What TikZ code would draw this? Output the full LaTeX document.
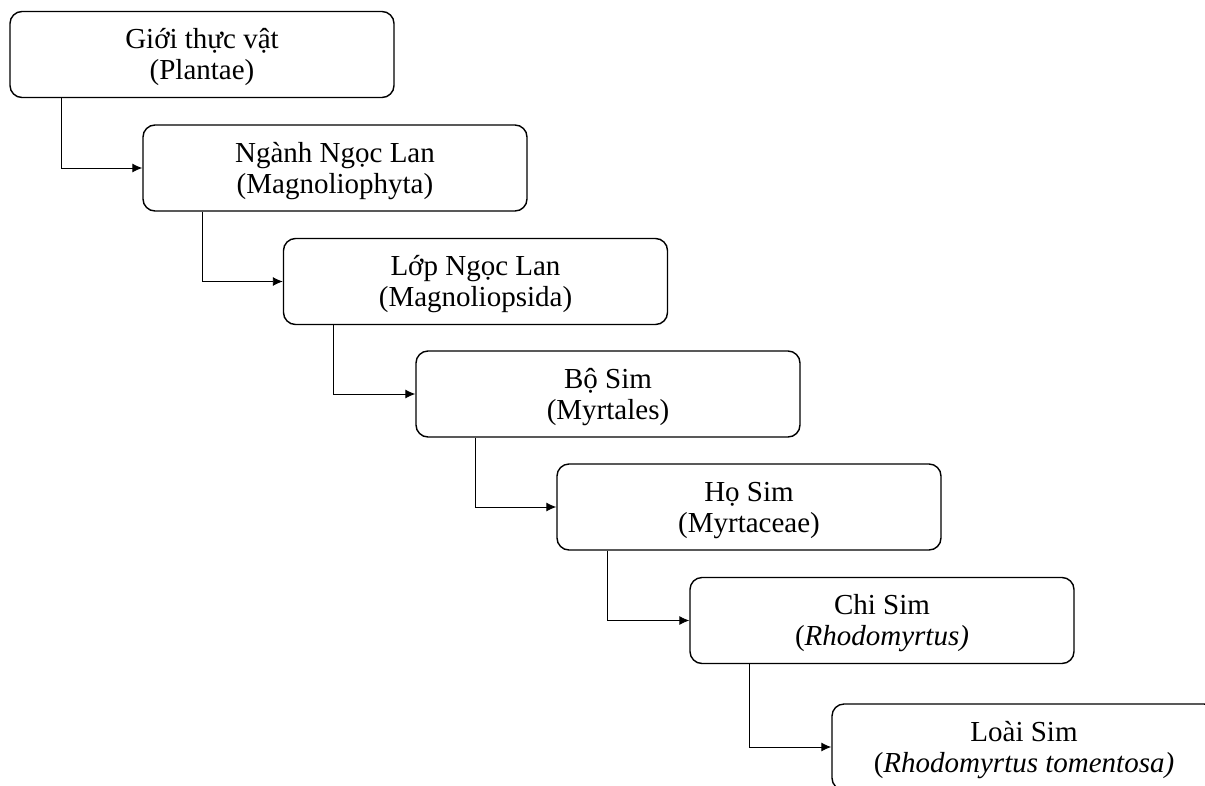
\documentclass[tikz,border=0pt]{standalone}
\usepackage{fontspec}
\setmainfont{Liberation Serif}
\usetikzlibrary{arrows.meta}
\begin{document}
\begin{tikzpicture}[x=1pt,y=-1pt,
  taxbox/.style={draw, line width=1.4pt, rounded corners=12pt, minimum width=384pt, minimum height=86pt, align=center, inner sep=0pt, text height=56pt, text depth=6pt, font=\fontsize{29}{31}\selectfont},
  conn/.style={line width=0.9pt, -{Latex[length=10pt,width=9pt]}}]
\clip (0,0) rectangle (1205,785);
\useasboundingbox (0,0) rectangle (1205,785);
\node[taxbox] (b1) at (202,54.5) {Giới thực vật\\(Plantae)};
\node[taxbox] (b2) at (335,168) {Ngành Ngọc Lan\\(Magnoliophyta)};
\node[taxbox] (b3) at (475.5,281.5) {Lớp Ngọc Lan\\(Magnoliopsida)};
\node[taxbox] (b4) at (608,394) {Bộ Sim\\(Myrtales)};
\node[taxbox] (b5) at (749,507) {Họ Sim\\(Myrtaceae)};
\node[taxbox] (b6) at (882,620.5) {Chi Sim\\(\textit{Rhodomyrtus)}};
\node[taxbox] (b7) at (1024,747) {Loài Sim\\(\textit{Rhodomyrtus tomentosa)}};
\draw[conn] ([xshift=52pt]b1.south west) |- (b2.west);
\draw[conn] ([xshift=60pt]b2.south west) |- (b3.west);
\draw[conn] ([xshift=51pt]b3.south west) |- (b4.west);
\draw[conn] ([xshift=60pt]b4.south west) |- (b5.west);
\draw[conn] ([xshift=51pt]b5.south west) |- (b6.west);
\draw[conn] ([xshift=60pt]b6.south west) |- (b7.west);
\end{tikzpicture}
\end{document}
